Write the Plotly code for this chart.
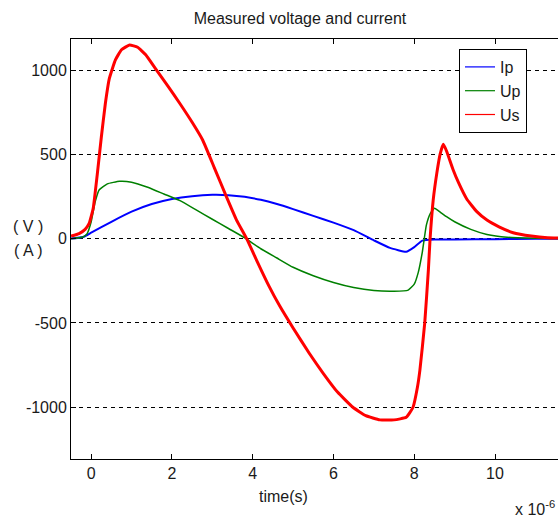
import plotly.graph_objects as go

# time in microseconds (axis shows x 10^-6)
t_us = [-0.5, -0.3, -0.15, -0.05, 0.05, 0.15, 0.25, 0.35, 0.45, 0.6, 0.75, 0.95, 1.15, 1.35,
        1.6, 1.9, 2.2, 2.5, 2.76, 3.05, 3.35, 3.6, 3.85, 4.1, 4.4, 4.67, 5.0, 5.4, 5.75, 6.1,
        6.48, 6.8, 7.15, 7.5, 7.8, 7.97, 8.08, 8.14, 8.26, 8.35, 8.39, 8.47, 8.56, 8.64, 8.72,
        8.8, 8.96, 9.1, 9.3, 9.55, 9.8, 10.1, 10.45, 10.9, 11.3, 11.6]
us_v = [15, 30, 55, 90, 180, 380, 600, 800, 950, 1060, 1120, 1148, 1135, 1090,
        1005, 905, 800, 690, 585, 420, 248, 110, 0, -130, -280, -400, -530, -680, -800, -910,
        -1000, -1050, -1075, -1075, -1060, -1000, -880, -780, -500, -185, -10, 230, 390, 500, 560,
        520, 410, 330, 235, 160, 110, 70, 35, 15, 5, 3]

t_up = [-0.5, -0.2, -0.1, 0.0, 0.1, 0.2, 0.4, 0.7, 1.0, 1.4, 1.8, 2.2, 2.6, 3.0, 3.4, 3.8,
        4.2, 4.6, 5.0, 5.5, 6.0, 6.5, 7.0, 7.5, 7.85, 8.0, 8.1, 8.2, 8.3, 8.4, 8.5, 8.6,
        8.8, 9.0, 9.4, 9.8, 10.3, 11.0, 11.6]
up_v = [0, 10, 30, 100, 220, 290, 325, 340, 335, 305, 265, 225, 170, 115, 60, 5,
        -60, -115, -170, -220, -260, -290, -308, -312, -305, -270, -200, -80, 80, 150, 180, 165,
        130, 100, 55, 25, 8, 2, 0]

t_ip = [-0.5, -0.2, 0.0, 0.5, 1.0, 1.5, 2.0, 2.5, 3.0, 3.4, 3.8, 4.2, 4.6, 5.0, 5.5, 6.0,
        6.5, 7.0, 7.4, 7.8, 8.0, 8.2, 8.5, 9.0, 10.0, 11.0, 11.6]
ip_v = [0, 10, 35, 100, 160, 205, 235, 252, 260, 258, 248, 230, 205, 175, 135, 95,
        50, -10, -55, -78, -50, -12, -5, -5, -3, 0, 0]

x_ticks = [0, 2, 4, 6, 8, 10]
y_ticks = [-1000, -500, 0, 500, 1000]
y_labels = ["-1000", "-500", "0", "500", "1000"]

names = ["Ip", "Up", "Us"]
colors = ["#0000ff", "#008000", "#ff0000"]
widths = [2, 1.5, 3]

FONT = "Liberation Sans, Arial, sans-serif"

fig = go.Figure()
for tx, vy, nm, c, w in zip([t_ip, t_up, t_us], [ip_v, up_v, us_v], names, colors, widths):
    fig.add_trace(go.Scatter(x=tx, y=vy, mode="lines", name=nm, showlegend=False,
                             line=dict(color=c, width=w, shape="spline", smoothing=0.4)))
# legend entries drawn with thin sample lines
for nm, c in zip(names, colors):
    fig.add_trace(go.Scatter(x=[None], y=[None], mode="lines", name=nm,
                             line=dict(color=c, width=1.2)))

fig.update_layout(
    width=558, height=518,
    margin=dict(l=71, r=0, t=39, b=59),
    paper_bgcolor="white", plot_bgcolor="white",
    font=dict(family=FONT, size=16, color="#1a1a1a"),
    title=dict(text="Measured voltage and current", x=(300 - 71) / 487, xref="paper",
               xanchor="center", y=1 - 18 / 518, yanchor="middle",
               font=dict(size=16, color="#1a1a1a")),
    showlegend=True,
    legend=dict(x=(459 - 71) / 487, y=(459 - 49) / 420, xanchor="left", yanchor="top",
                bgcolor="white", bordercolor="black", borderwidth=1,
                font=dict(size=16, color="#1a1a1a"), tracegroupgap=0),
    xaxis=dict(range=[-0.5, 11.56], tickvals=x_ticks, ticks="inside", ticklen=5,
               tickcolor="black", showline=True, linecolor="black", linewidth=1,
               mirror="ticks", showgrid=False, zeroline=False,
               tickfont=dict(size=16)),
    yaxis=dict(range=[-1307, 1184], tickvals=y_ticks, ticktext=y_labels, ticks="inside",
               ticklen=5, tickcolor="black", showline=True, linecolor="black", linewidth=1,
               showgrid=True, gridcolor="black", gridwidth=1, griddash="4px,4px",
               zeroline=False, tickfont=dict(size=16)),
    annotations=[
        dict(text="time(s)", xref="paper", yref="paper", x=(283 - 71) / 487,
             y=(459 - 497) / 420, xanchor="center", yanchor="middle", showarrow=False,
             font=dict(size=16)),
        dict(text="x 10<sup>-6</sup>", xref="paper", yref="paper", x=(513 - 71) / 487,
             y=(459 - 508) / 420, xanchor="left", yanchor="middle", showarrow=False,
             font=dict(size=16)),
        dict(text="( V )", xref="paper", yref="paper", x=(28 - 71) / 487,
             y=(459 - 226) / 420, xanchor="center", yanchor="middle", showarrow=False,
             font=dict(size=16)),
        dict(text="( A )", xref="paper", yref="paper", x=(28 - 71) / 487,
             y=(459 - 250) / 420, xanchor="center", yanchor="middle", showarrow=False,
             font=dict(size=16)),
    ],
)

fig.write_html("out.html")
